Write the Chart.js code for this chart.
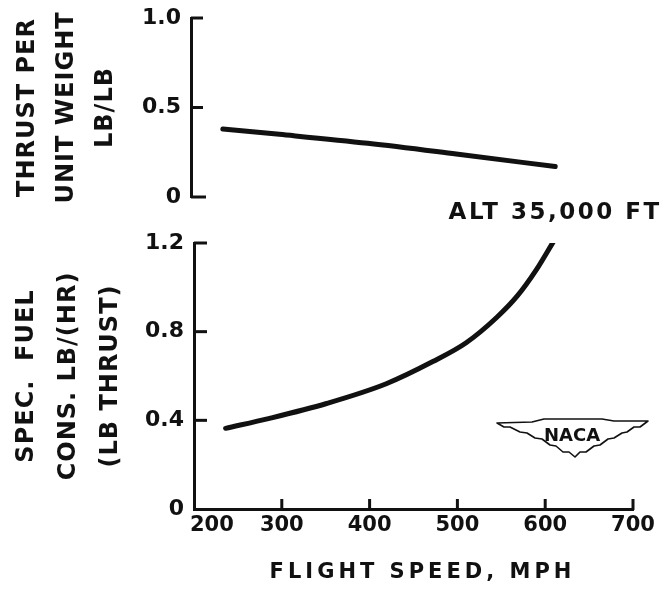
<!DOCTYPE html>
<html>
<head>
<meta charset="utf-8">
<script src="https://cdn.jsdelivr.net/npm/chart.js@4.4.0/dist/chart.umd.min.js"></script>
<style>
  html, body { margin: 0; padding: 0; background: #fff; }
  body { width: 666px; height: 594px; position: relative; overflow: hidden; }
  canvas { position: absolute; left: 0; }
  #thrustChart { top: 0; }
  #fuelChart { top: 190px; }
</style>
</head>
<body>
<canvas id="thrustChart" width="666" height="230"></canvas>
<canvas id="fuelChart" width="666" height="404"></canvas>
<script>
// flight speed (mph) vs thrust per unit weight
const thrustSpeed = [236, 300, 400, 500, 612];
const thrustPerWeight = [0.38, 0.35, 0.30, 0.24, 0.17];

// flight speed (mph) vs specific fuel consumption, lower panel
const fuelSpeed = [236, 286, 351, 419, 472, 510, 545, 568, 590, 609];
const fuelConsumption = [0.364, 0.409, 0.476, 0.565, 0.665, 0.75, 0.865, 0.96, 1.08, 1.204];

const speedTicks = [200, 300, 400, 500, 600, 700];
const thrustTicks = [0, 0.5, 1.0];
const fuelTicks = [0, 0.4, 0.8, 1.2];
const altitudeNote = 'ALT 35,000 FT';

const ink = '#111';
const FONT = "'DejaVu Sans', sans-serif";

function tickLabel(v) {
  return v === 0 ? '0' : v.toFixed(1);
}

// fixed axis widths, and no extra room for the end labels
function fixWidth(w) {
  return s => {
    s.width = w;
    s.paddingTop = 0;
    s.paddingBottom = 0;
  };
}

// ticks in the original point inwards, so draw them here from the scales.
// the hand lettering is wide, so axis titles get some letter spacing
const inkPlugin = {
  id: 'ink',
  beforeDraw(chart, args, opts) {
    chart.ctx.letterSpacing = '0px';
    Object.values(chart.scales).forEach(scale => {
      const gap = (opts.titleSpacing || {})[scale.id];
      if (!gap || scale._spaced) return;
      const shift = (opts.titleShift || {})[scale.id] || 0;
      const draw = scale.drawTitle;
      scale.drawTitle = function () {
        const ctx = this.ctx;
        ctx.save();
        ctx.translate(shift, 0);
        ctx.letterSpacing = gap;
        draw.call(this);
        ctx.restore();
      };
      scale._spaced = true;
    });
  },
  afterDraw(chart, args, opts) {
    const ctx = chart.ctx;
    const xs = chart.scales.x;
    const ys = chart.scales.y;
    ctx.save();
    ctx.strokeStyle = ink;
    ctx.lineWidth = 3;
    ys.ticks.forEach(t => {
      if (t.value === 0 && !opts.zeroStub) return;
      const py = ys.getPixelForValue(t.value);
      const len = t.value === 0 ? opts.zeroStub : opts.yTick;
      ctx.beginPath();
      ctx.moveTo(ys.right, py);
      ctx.lineTo(ys.right + len, py);
      ctx.stroke();
    });
    if (opts.xTick) {
      xs.ticks.forEach(t => {
        if (t.value === xs.min) return;
        const px = xs.getPixelForValue(t.value);
        ctx.beginPath();
        ctx.moveTo(px, xs.top + 1);
        ctx.lineTo(px, xs.top - opts.xTick);
        ctx.stroke();
      });
    }
    ctx.restore();
    if (opts.extras) opts.extras(chart);
  }
};

function drawLogo(ctx, cx, cy) {
  ctx.save();
  ctx.letterSpacing = '0px';
  ctx.translate(cx, cy);
  ctx.strokeStyle = ink;
  ctx.lineWidth = 1.6;
  ctx.lineJoin = 'round';
  ctx.beginPath();
  ctx.moveTo(-75, -12);
  ctx.lineTo(-40, -13);
  ctx.lineTo(-28, -16);
  ctx.lineTo(30, -16);
  ctx.lineTo(42, -14);
  ctx.lineTo(76, -14);
  ctx.lineTo(68, -8);
  ctx.lineTo(62, -8);
  ctx.lineTo(55, -3);
  ctx.lineTo(50, -2);
  ctx.lineTo(42, 3);
  ctx.lineTo(36, 4);
  ctx.lineTo(28, 10);
  ctx.lineTo(22, 11);
  ctx.lineTo(14, 17);
  ctx.lineTo(8, 17);
  ctx.lineTo(3, 22);
  ctx.lineTo(-3, 17);
  ctx.lineTo(-9, 17);
  ctx.lineTo(-16, 11);
  ctx.lineTo(-22, 10);
  ctx.lineTo(-30, 4);
  ctx.lineTo(-37, 3);
  ctx.lineTo(-45, -2);
  ctx.lineTo(-52, -3);
  ctx.lineTo(-62, -8);
  ctx.lineTo(-68, -8);
  ctx.closePath();
  ctx.stroke();
  ctx.fillStyle = ink;
  ctx.font = "bold 18px " + FONT;
  ctx.textAlign = 'center';
  ctx.textBaseline = 'middle';
  ctx.fillText('NACA', 0, 1);
  ctx.restore();
}

function fuelExtras(chart) {
  const ctx = chart.ctx;
  const xs = chart.scales.x;
  const endX = xs.getPixelForValue(fuelSpeed[fuelSpeed.length - 1]);
  ctx.save();
  ctx.fillStyle = ink;
  ctx.font = "bold 23px " + FONT;
  ctx.letterSpacing = '2.5px';
  ctx.textAlign = 'center';
  ctx.textBaseline = 'middle';
  ctx.fillText(altitudeNote, endX + 2, chart.chartArea.top - 30);
  ctx.restore();
  drawLogo(ctx, 572, 245);
}

const lineStyle = {
  borderColor: ink,
  borderWidth: 5,
  pointRadius: 0,
  fill: false,
  cubicInterpolationMode: 'monotone',
  borderCapStyle: 'round'
};

const tickFont = { family: FONT, size: 22, weight: 'bold' };

new Chart(document.getElementById('thrustChart'), {
  type: 'line',
  data: {
    datasets: [Object.assign({
      data: thrustSpeed.map((s, i) => ({ x: s, y: thrustPerWeight[i] }))
    }, lineStyle)]
  },
  options: {
    responsive: false,
    animation: false,
    events: [],
    layout: { padding: { top: 18, bottom: 33, left: 0, right: 33 } },
    plugins: {
      legend: { display: false },
      tooltip: { enabled: false },
      ink: { yTick: 12, zeroStub: 15, titleSpacing: { y: '1px' } }
    },
    scales: {
      x: { type: 'linear', min: 200, max: 700, display: false },
      y: {
        min: 0, max: 1.0,
        afterBuildTicks: s => { s.ticks = thrustTicks.map(v => ({ value: v })); },
        afterFit: fixWidth(191),
        grid: { display: false, drawTicks: false },
        border: { display: true, color: ink, width: 3 },
        ticks: { color: ink, padding: 10, font: tickFont, callback: tickLabel },
        title: {
          display: true,
          text: ['THRUST PER', 'UNIT WEIGHT', 'LB/LB'],
          color: ink,
          font: { family: FONT, size: 24, weight: 'bold', lineHeight: 39 / 24 },
          padding: { top: 8, bottom: 0 }
        }
      }
    }
  },
  plugins: [inkPlugin]
});

new Chart(document.getElementById('fuelChart'), {
  type: 'line',
  data: {
    datasets: [Object.assign({
      data: fuelSpeed.map((s, i) => ({ x: s, y: fuelConsumption[i] }))
    }, lineStyle)]
  },
  options: {
    responsive: false,
    animation: false,
    events: [],
    layout: { padding: { top: 53, bottom: 0, left: 0, right: 33 } },
    plugins: {
      legend: { display: false },
      tooltip: { enabled: false },
      ink: {
        yTick: 13, xTick: 10, extras: fuelExtras,
        titleSpacing: { x: '4px', y: '1px' },
        titleShift: { x: 9 }
      }
    },
    scales: {
      x: {
        type: 'linear', min: 200, max: 700,
        afterBuildTicks: s => { s.ticks = speedTicks.map(v => ({ value: v })); },
        afterFit: s => { s.height = 85; },
        grid: { display: false, drawTicks: false },
        border: { display: true, color: ink, width: 3 },
        ticks: {
          color: ink, padding: 4, maxRotation: 0,
          font: { family: FONT, size: 21, weight: 'bold' },
          callback: v => (v === 200 ? '\u2003\u2002\u2009' + v : String(v))
        },
        title: {
          display: true,
          text: 'FLIGHT SPEED, MPH',
          color: ink,
          font: { family: FONT, size: 21, weight: 'bold' },
          padding: { top: 0, bottom: 9 }
        }
      },
      y: {
        min: 0, max: 1.2,
        afterBuildTicks: s => { s.ticks = fuelTicks.map(v => ({ value: v })); },
        afterFit: fixWidth(194),
        grid: { display: false, drawTicks: false },
        border: { display: true, color: ink, width: 3 },
        ticks: { color: ink, padding: 10, font: tickFont, callback: tickLabel },
        title: {
          display: true,
          text: ['SPEC.  FUEL', 'CONS. LB/(HR)', '(LB THRUST)'],
          color: ink,
          font: { family: FONT, size: 24, weight: 'bold', lineHeight: 42 / 24 },
          padding: { top: 6, bottom: 0 }
        }
      }
    }
  },
  plugins: [inkPlugin]
});
</script>
</body>
</html>
